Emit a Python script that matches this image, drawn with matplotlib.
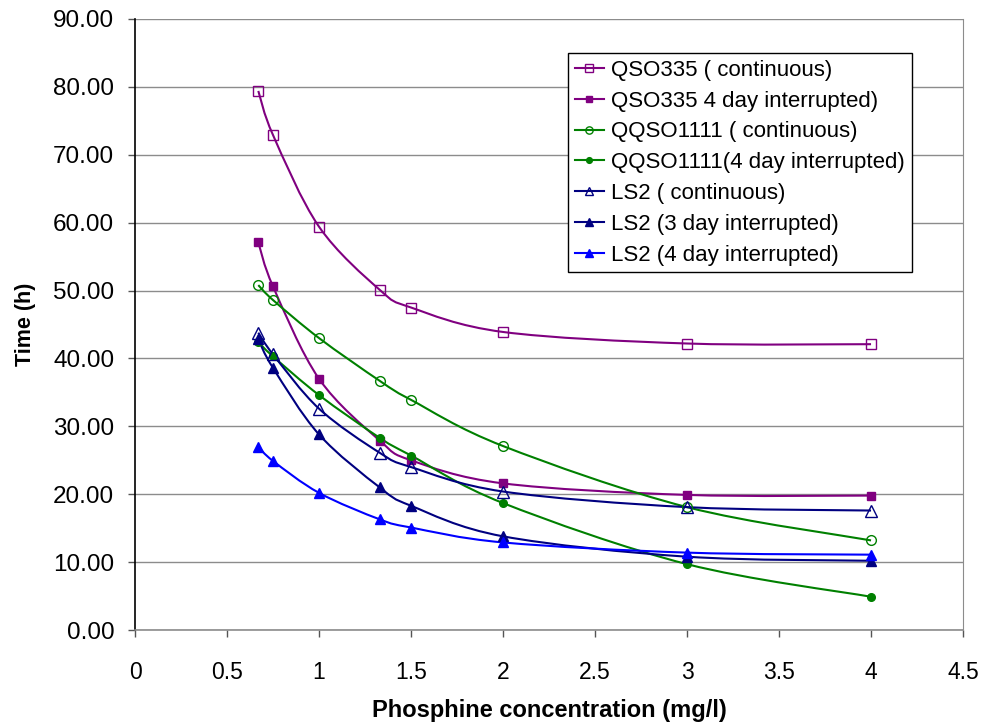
import matplotlib
matplotlib.use("Agg")
import matplotlib.pyplot as plt
import numpy as np
from matplotlib.lines import Line2D
from matplotlib.patches import PathPatch
from matplotlib.path import Path
from matplotlib.ticker import FuncFormatter, MultipleLocator

plt.rcParams["font.family"] = ["Liberation Sans", "DejaVu Sans"]

# phosphine concentration (mg/l)
conc = [0.67, 0.75, 1.0, 1.33, 1.5, 2.0, 3.0, 4.0]

# time (h) per strain / exposure
qso335_cont = [79.4, 72.9, 59.4, 50.1, 47.5, 43.9, 42.2, 42.1]
qso335_4day = [57.1, 50.6, 37.0, 27.9, 25.0, 21.6, 19.9, 19.8]
qqso1111_cont = [50.8, 48.6, 43.0, 36.7, 33.9, 27.1, 18.1, 13.2]
qqso1111_4day = [42.4, 40.3, 34.6, 28.3, 25.7, 18.7, 9.7, 4.9]
ls2_cont = [43.8, 40.6, 32.6, 26.1, 24.0, 20.4, 18.1, 17.6]
ls2_3day = [42.8, 38.6, 28.8, 21.0, 18.3, 13.8, 10.8, 10.2]
ls2_4day = [27.0, 24.9, 20.2, 16.3, 15.1, 12.9, 11.4, 11.1]

labels = [
    "QSO335 ( continuous)",
    "QSO335 4 day interrupted)",
    "QQSO1111 ( continuous)",
    "QQSO1111(4 day interrupted)",
    "LS2 ( continuous)",
    "LS2 (3 day interrupted)",
    "LS2 (4 day interrupted)",
]
series = [qso335_cont, qso335_4day, qqso1111_cont, qqso1111_4day,
          ls2_cont, ls2_3day, ls2_4day]
colors = ["#800080", "#800080", "#008000", "#008000",
          "#000080", "#000080", "#0000FF"]
markers = ["s", "s", "o", "o", "^", "^", "^"]
filled = [False, True, False, True, False, True, True]
msizes = [7.0, 5.5, 7.0, 5.5, 8.0, 7.0, 7.0]


def smooth_path(x, y):
    """Excel-style smoothed line: Catmull-Rom segments as cubic Beziers."""
    pts = np.column_stack([x, y]).astype(float)
    n = len(pts)
    verts = [pts[0]]
    codes = [Path.MOVETO]
    for i in range(n - 1):
        p0 = pts[i - 1] if i > 0 else pts[i]
        p1 = pts[i]
        p2 = pts[i + 1]
        p3 = pts[i + 2] if i + 2 < n else pts[i + 1]
        c1 = p1 + (p2 - p0) / 6.0
        c2 = p2 - (p3 - p1) / 6.0
        verts += [c1, c2, p2]
        codes += [Path.CURVE4] * 3
    return Path(verts, codes)


fig = plt.figure(figsize=(9.82, 7.24), dpi=100)
ax = fig.add_axes([0.1375, 0.1298, 0.8432, 0.844])

handles = []
for vals, lab, col, mk, fl, ms in zip(series, labels, colors, markers, filled, msizes):
    ax.add_patch(PathPatch(smooth_path(conc, vals), fill=False,
                           edgecolor=col, lw=1.5, zorder=3))
    face = col if fl else "none"
    ax.plot(conc, vals, linestyle="none", marker=mk, markersize=ms,
            markerfacecolor=face, markeredgecolor=col, markeredgewidth=1.0,
            zorder=4)
    handles.append(Line2D([], [], color=col, lw=1.5, marker=mk,
                          markersize=ms * 0.75, markerfacecolor=face,
                          markeredgecolor=col, markeredgewidth=1.0, label=lab))

ax.set_xlim(0, 4.5)
ax.set_ylim(0, 90)
ax.xaxis.set_major_locator(MultipleLocator(0.5))
ax.yaxis.set_major_locator(MultipleLocator(10))
ax.xaxis.set_major_formatter(FuncFormatter(lambda v, p: f"{v:g}"))
ax.yaxis.set_major_formatter(FuncFormatter(lambda v, p: f"{v:.2f}"))

ax.grid(axis="y", color="#8c8c8c", lw=1.0)
ax.set_axisbelow(True)
ax.spines["top"].set_visible(False)
ax.spines["right"].set_color("#8c8c8c")
ax.spines["bottom"].set_color("#8c8c8c")
ax.spines["left"].set_color("black")
ax.spines["left"].set_linewidth(1.2)
ax.spines["bottom"].set_linewidth(1.2)

ax.tick_params(axis="y", direction="out", length=5, width=1, labelsize=17.5,
               color="#555555", pad=10)
ax.tick_params(axis="x", direction="out", length=5, width=1, labelsize=16.5,
               color="#555555", pad=17)

ax.set_xlabel("Phosphine concentration (mg/l)", fontsize=17,
              fontweight="bold", labelpad=11)
ax.set_ylabel("Time (h)", fontsize=15.5, fontweight="bold", labelpad=12)

leg = ax.legend(handles=handles, loc="upper left",
                bbox_to_anchor=(0.523, 0.944), fontsize=16,
                frameon=True, fancybox=False, edgecolor="black",
                framealpha=1, borderpad=0.3, labelspacing=0.44,
                handlelength=1.3, handletextpad=0.35, borderaxespad=0)
leg.get_frame().set_linewidth(1.0)

fig.savefig("out.png", dpi=100)
